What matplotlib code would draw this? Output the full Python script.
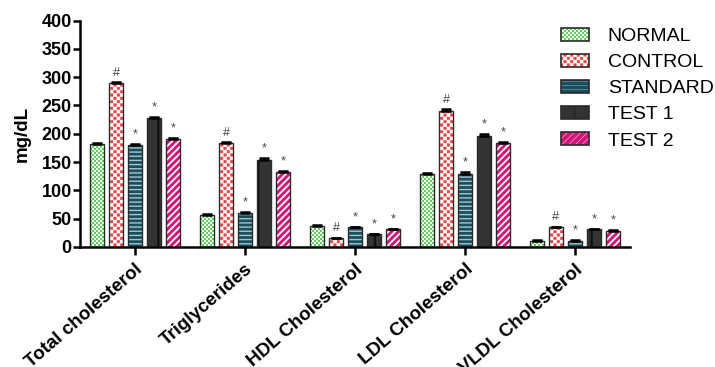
import numpy as np
import matplotlib
matplotlib.use("Agg")
import matplotlib.pyplot as plt
import matplotlib.hatch as mhatch
from matplotlib.path import Path
from matplotlib.patches import Patch
from matplotlib.legend_handler import HandlerTuple

# ---------------- data ----------------
categories = ["Total cholesterol", "Triglycerides", "HDL Cholesterol",
              "LDL Cholesterol", "VLDL Cholesterol"]
groups = ["NORMAL", "CONTROL", "STANDARD", "TEST 1", "TEST 2"]
normal = [182, 57, 37, 129, 11]
control = [289, 183, 15, 240, 35]
standard = [180, 60, 35, 129, 11]
test1 = [228, 154, 22.5, 196, 31]
test2 = [190, 132, 31, 183, 29]
normal_err = [2, 2, 1, 2, 1]
control_err = [2, 2, 1, 3, 1]
standard_err = [2, 2, 1, 3, 1]
test1_err = [2, 4, 1, 4, 1]
test2_err = [2, 3, 1, 2, 1]
marks = ["", "#", "*", "*", "*"]
yticks = [0, 50, 100, 150, 200, 250, 300, 350, 400]

values = [normal, control, standard, test1, test2]
errors = [normal_err, control_err, standard_err, test1_err, test2_err]


# ------------- custom checkerboard hatch -------------
class Checker(mhatch.HatchPatternBase):
    filled = True

    def __init__(self, hatch, density):
        q = hatch.count('Q')
        self.n = 10 * q
        if self.n == 0:
            self.num_vertices = 0
        else:
            cnt = sum(1 for r in range(self.n) for c in range(self.n) if (r + c) % 2 == 0)
            self.num_vertices = cnt * 5

    def set_vertices_and_codes(self, vertices, codes):
        n = self.n
        s = 1.0 / n
        shrink = 0.004
        verts = []
        cds = []
        for r in range(n):
            for c in range(n):
                if (r + c) % 2 == 0:
                    x0, y0 = c * s + shrink, r * s + shrink
                    x1, y1 = (c + 1) * s - shrink, (r + 1) * s - shrink
                    verts.extend([[x0, y0], [x1, y0], [x1, y1], [x0, y1], [x0, y0]])
                    cds.extend([Path.MOVETO, Path.LINETO, Path.LINETO,
                                Path.LINETO, Path.CLOSEPOLY])
        vertices[:] = np.array(verts)
        codes[:] = np.array(cds)


mhatch._hatch_types.append(Checker)
mhatch._validate_hatch_pattern = lambda h: None

plt.rcParams['font.family'] = ['Liberation Sans', 'DejaVu Sans']
plt.rcParams['hatch.linewidth'] = 0.3

styles = [
    dict(face='white', hcolor='#11bb11', hatch='QQQQQ'),
    dict(face='white', hcolor='#f03c3c', hatch='QQQ'),
    dict(face='#174f5e', hcolor='#a8c4cc', hatch='----'),
    dict(face='#333333', hcolor='#111111', hatch='|'),
    dict(face='#d4157a', hcolor='#ffffff', hatch='/////'),
]
line_w = {2: 1.0, 3: 1.6, 4: 1.3}

fig = plt.figure(figsize=(7.15, 3.67), dpi=100)
ax = fig.add_axes([0.112, 0.327, 0.769, 0.617])

x = np.arange(len(categories))
pitch = 0.173
width = 0.123
offsets = (np.arange(len(groups)) - 2) * pitch

for i, (vals, errs, st) in enumerate(zip(values, errors, styles)):
    xs = x + offsets[i]
    with plt.rc_context({'hatch.linewidth': line_w.get(i, 0.3)}):
        ax.bar(xs, vals, width=width, color=st['face'], edgecolor=st['hcolor'],
               hatch=st['hatch'], linewidth=0, zorder=2)
    ax.bar(xs, vals, width=width, fill=False, edgecolor='#2a2a2a',
           linewidth=1.0, zorder=3)
    ax.errorbar(xs, vals, yerr=[np.zeros(len(errs)), errs], fmt='none',
                ecolor='black', elinewidth=1.2, capsize=3.5, capthick=1.8,
                zorder=4)
    if marks[i]:
        for xx, v, e in zip(xs, vals, errs):
            ax.annotate(marks[i], (xx, v + e), xytext=(0, 2.5),
                        textcoords='offset points', ha='center', va='bottom',
                        fontsize=9, color='#444444')

ax.set_xlim(-0.5, 4.5)
ax.set_ylim(0, 400)
ax.set_yticks(yticks)
ax.set_yticklabels([str(t) for t in yticks], fontsize=13, fontweight='bold')
ax.set_xticks(x)
ax.set_xticklabels(categories, fontsize=13.5, fontweight='bold', rotation=41,
                   ha='right', rotation_mode='anchor')
ax.tick_params(axis='y', length=5, width=1.8, pad=1)
ax.tick_params(axis='x', length=6, width=1.8, pad=4)
ax.set_ylabel('mg/dL', fontsize=13.5, fontweight='bold', labelpad=8)
for side in ['top', 'right']:
    ax.spines[side].set_visible(False)
for side in ['left', 'bottom']:
    ax.spines[side].set_linewidth(1.8)

handles = []
for i, st in enumerate(styles):
    p1 = Patch(facecolor=st['face'], edgecolor=st['hcolor'], hatch=st['hatch'],
               linewidth=0)
    p2 = Patch(fill=False, edgecolor='#2a2a2a', linewidth=1.2)
    handles.append((p1, p2))

fig.legend(handles, groups, handler_map={tuple: HandlerTuple(ndivide=1, pad=0)},
           loc='upper left', bbox_to_anchor=(0.774, 0.945), frameon=False,
           fontsize=14, handlelength=1.45, handleheight=0.65, handletextpad=0.95,
           labelspacing=0.45, borderaxespad=0)

fig.savefig('out.png', dpi=100)
